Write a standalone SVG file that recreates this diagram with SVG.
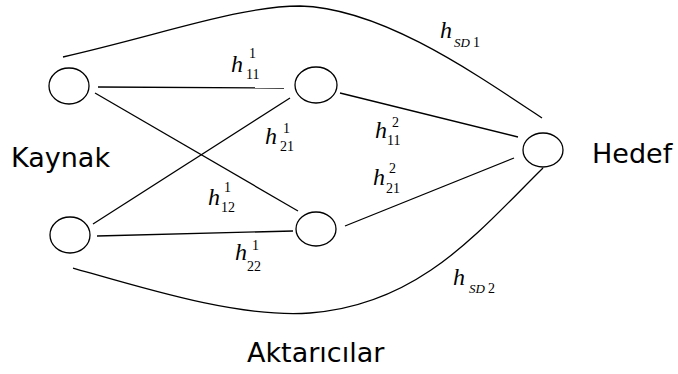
<svg xmlns="http://www.w3.org/2000/svg" width="678" height="374" viewBox="0 0 678 374">
<style>
.n{fill:#fff;stroke:#000;stroke-width:1.3}
.c{fill:none;stroke:#000;stroke-width:1.3}
.h{font-family:"Liberation Serif",serif;font-style:italic;font-size:24px;fill:#000}
.s{font-family:"Liberation Serif",serif;font-size:14px;fill:#000}
.si{font-family:"Liberation Serif",serif;font-style:italic;font-size:13px;fill:#000}
.t{font-family:"DejaVu Sans",sans-serif;font-size:27px;fill:#000}
</style>
<rect width="678" height="374" fill="#fff"/>
<g id="connectors">
<path class="c" d="M98,87 L284,88"/>
<path class="c" d="M95,93 L298,211"/>
<path class="c" d="M93,224 L290,98"/>
<path class="c" d="M97,236 L293,231"/>
<path class="c" d="M340,93 L518,137"/>
<path class="c" d="M345,226 L514,158"/>
<path class="c" d="M63,57 C160,35 240,6 300,6 C380,8 470,70 542,118"/>
<path class="c" d="M73,268 C150,290 240,318 310,313 C420,305 480,230 543,168"/>
</g>
<g id="S1"><ellipse class="n" cx="69" cy="86" rx="20" ry="18"/></g>
<g id="S2"><ellipse class="n" cx="70" cy="235" rx="20" ry="18"/></g>
<g id="R1"><ellipse class="n" cx="316" cy="85" rx="21" ry="18"/></g>
<g id="R2"><ellipse class="n" cx="316" cy="229" rx="20" ry="17"/></g>
<g id="D"><ellipse class="n" cx="543" cy="150" rx="20" ry="17"/></g>
<g id="labels">
<text class="h" x="231" y="72">h</text><text class="s" x="249" y="58">1</text><text class="s" x="246" y="79">11</text>
<text class="h" x="265" y="144">h</text><text class="s" x="283" y="133">1</text><text class="s" x="280" y="151">21</text>
<text class="h" x="375" y="138">h</text><text class="s" x="392" y="127">2</text><text class="s" x="387" y="145">11</text>
<text class="h" x="373" y="185">h</text><text class="s" x="389" y="173">2</text><text class="s" x="386" y="193">21</text>
<text class="h" x="208" y="205">h</text><text class="s" x="224" y="192">1</text><text class="s" x="221" y="212">12</text>
<text class="h" x="235" y="260">h</text><text class="s" x="252" y="250">1</text><text class="s" x="247" y="271">22</text>
<text class="h" x="440" y="38">h</text><text class="si" x="454" y="47">SD</text><text class="s" x="473" y="47">1</text>
<text class="h" x="453" y="285">h</text><text class="si" x="469" y="293">SD</text><text class="s" x="488" y="293">2</text>
<text class="t" x="11" y="167">Kaynak</text>
<text class="t" x="592" y="163">Hedef</text>
<text class="t" x="247" y="362">Aktarıcılar</text>
</g>
</svg>
